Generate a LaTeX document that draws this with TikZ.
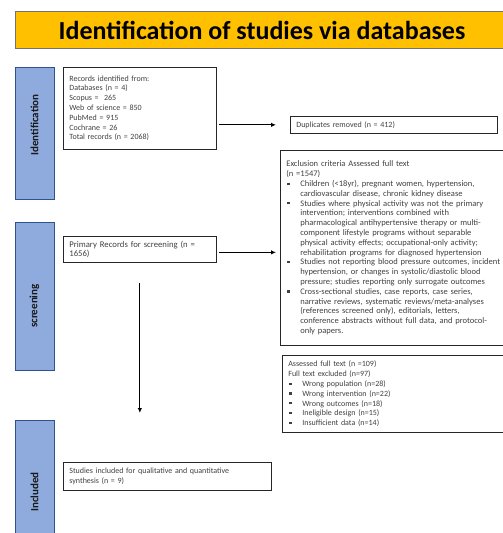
\documentclass[tikz,border=0pt]{standalone}
\usepackage{fontspec}
\setmainfont{Carlito}
\usepackage{tikz}
\usetikzlibrary{arrows.meta}

\definecolor{titlegold}{HTML}{FFC000}
\definecolor{stageblue}{HTML}{8FAADC}
\definecolor{stageedge}{HTML}{2F528F}
\definecolor{boxtext}{HTML}{404040}

% bullet item with hanging indent
\newcommand{\bitem}{\par\hangindent=14pt\hangafter=1\noindent
  \makebox[14pt][l]{\hspace{1pt}\raisebox{1.6pt}{\rule{2.2pt}{2.2pt}}}}

\tikzset{
  stagebar/.style={draw=stageedge,fill=stageblue,line width=0.8pt},
  stagelabel/.style={rotate=90,text=black!90,font=\fontsize{11}{13}\selectfont\bfseries},
  flowbox/.style={draw=black!85,line width=0.7pt,anchor=north west,align=left,
    inner xsep=6pt,inner ysep=3pt,font=\fontsize{8}{9.8}\selectfont,text=boxtext},
  flowarrow/.style={line width=1.1pt,-{Latex[length=5pt,width=4.5pt]}}
}

\begin{document}
\begin{tikzpicture}[x=1pt,y=-1pt]
\useasboundingbox (0,0) rectangle (503,533);
\clip (0,0) rectangle (503,533);

\node[draw=black!55,fill=titlegold,line width=0.7pt,anchor=north west,
  minimum width=493pt,minimum height=37pt,inner sep=0pt] (title) at (15,11) {};
\node[font=\fontsize{26}{30}\selectfont\bfseries] (titletext) at (262,30)
  {Identification of studies via databases};

% stages
\begin{scope}
  \draw[stagebar] (15,67) rectangle (54,199);
  \node[stagelabel] (stageid) at (34.5,125) {Identification};
  \draw[stagebar] (15,222) rectangle (54,370);
  \node[stagelabel] (stagescr) at (34.5,306) {screening};
  \draw[stagebar] (15,420) rectangle (54,540);
  \node[stagelabel] (stageinc) at (34.5,492) {Included};
\end{scope}

% boxes
\node[flowbox,text width=141pt,minimum height=82pt] (records) at (63,67)
  {Records identified from:\\
   Databases (n = 4)\\
   Scopus =~ 265\\
   Web of science = 850\\
   PubMed = 915\\
   Cochrane = 26\\
   Total records (n = 2068)};
\node[flowbox,text width=195pt,minimum height=17pt] (dup) at (290,116)
  {Duplicates removed (n = 412)};
\node[flowbox,text width=214pt,minimum height=195pt,
  font=\fontsize{8.5}{9.8}\selectfont] (excl) at (280,150)
  {\noindent Exclusion criteria Assessed full text\newline
   (n =1547)
   \bitem Children (<18yr), pregnant women, hypertension,\newline
   cardiovascular disease, chronic kidney disease
   \bitem Studies where physical activity was not the primary\newline
   intervention; interventions combined with\newline
   pharmacological antihypertensive therapy or multi-\newline
   component lifestyle programs without separable\newline
   physical activity effects; occupational-only activity;\newline
   rehabilitation programs for diagnosed hypertension
   \bitem Studies not reporting blood pressure outcomes, incident\newline
   hypertension, or changes in systolic/diastolic blood\newline
   pressure; studies reporting only surrogate outcomes
   \bitem Cross-sectional studies, case reports, case series,\newline
   narrative reviews, systematic reviews/meta-analyses\newline
   (references screened only), editorials, letters,\newline
   conference abstracts without full data, and protocol-\newline
   only papers.\par};
\node[flowbox,text width=141pt,minimum height=26pt,
  font=\fontsize{8.7}{9.8}\selectfont] (primary) at (63,236)
  {Primary Records for screening (n =\\ 1656)};
\node[flowbox,text width=212pt,minimum height=77pt] (assessed) at (282,355)
  {\noindent Assessed full text (n =109)\newline
   Full text excluded (n=97)
   \bitem Wrong population (n=28)
   \bitem Wrong intervention (n=22)
   \bitem Wrong outcomes (n=18)
   \bitem Ineligible design (n=15)
   \bitem Insufficient data (n=14)\par};
\node[flowbox,text width=196pt,minimum height=28pt] (studies) at (63,462)
  {Studies included for qualitative and quantitative\\ synthesis (n = 9)};

% connectors
\coordinate (incl) at ([yshift=49pt]primary.south |- studies.north);
\draw[flowarrow] ([xshift=2pt]records.east |- dup.west) -- ([xshift=-14pt]dup.west);
\draw[flowarrow] ([xshift=2pt,yshift=-3pt]primary.east) -- ([xshift=-4pt,yshift=-3pt]excl.west |- primary.east);
\draw[flowarrow] ([yshift=-20pt]primary.south) -- (incl);
\end{tikzpicture}
\end{document}
